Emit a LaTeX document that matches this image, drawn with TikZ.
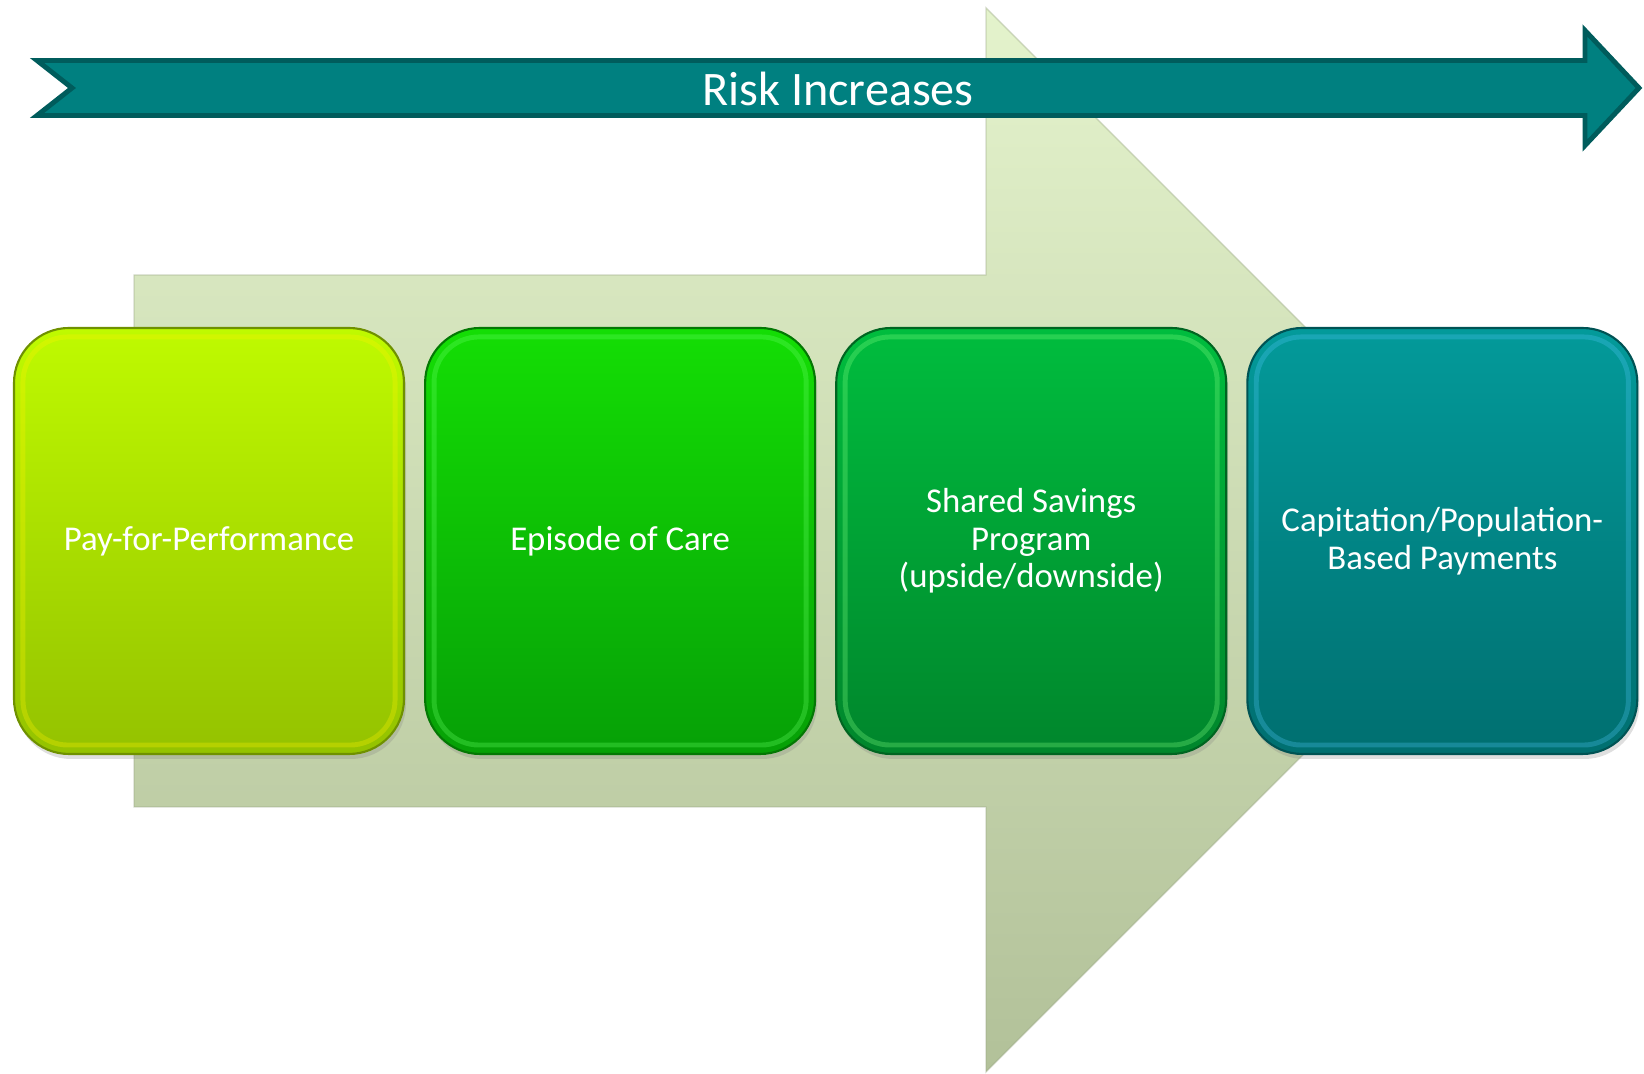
\documentclass[tikz,border=0pt]{standalone}
\usepackage{fontspec}
\setmainfont{Carlito}
\usepackage{xcolor}
\usepackage{tikz}
\usetikzlibrary{positioning, shadows}
\definecolor{riskfill}{HTML}{008080}
\definecolor{riskedge}{HTML}{005C5C}
\definecolor{arrowtop}{HTML}{E4F3CC}
\definecolor{arrowbot}{HTML}{B2C199}
\definecolor{limetop}{HTML}{BFFA00}
\definecolor{limebot}{HTML}{94C200}
\definecolor{greentop}{HTML}{14DE05}
\definecolor{greenbot}{HTML}{06A006}
\definecolor{deeptop}{HTML}{00BD3E}
\definecolor{deepbot}{HTML}{00862C}
\definecolor{tealtop}{HTML}{039A9A}
\definecolor{tealbot}{HTML}{006F70}

\begin{document}
\begin{tikzpicture}[font=\fontsize{9.9}{10.7}\selectfont,
  model/.style={rounded corners=0.55cm, minimum width=3.9cm, minimum height=4.26cm,
    align=center, text=white, line width=0.6pt,
    drop shadow={opacity=0.25, shadow xshift=0.02cm, shadow yshift=-0.05cm}}]
  \useasboundingbox (0,0) rectangle (16.44,10.74);

  % Velká šipka v pozadí
  \shade[top color=arrowtop, bottom color=arrowbot, draw=arrowbot!85!black, draw opacity=0.4, line width=0.4pt]
    (1.34,7.99) -- (9.86,7.99) -- (9.86,10.66) -- (15.18,5.34)
    -- (9.86,0.02) -- (9.86,2.67) -- (1.34,2.67) -- cycle;

  % Pruh "Risk Increases"
  \draw[fill=riskfill, draw=riskedge, line width=1.4pt]
    (0.37,10.135) -- (15.85,10.135) -- (15.85,10.435) -- (16.39,9.86)
    -- (15.85,9.285) -- (15.85,9.585) -- (0.37,9.585) -- (0.72,9.86) -- cycle;
  \node[text=white, font=\fontsize{13.7}{16}\selectfont] (risk) at (8.38,9.85) {Risk Increases};

  % Bloky platebních modelů
  \node[model, top color=limetop, bottom color=limebot, draw=limebot!75!black] (pfp) at (2.09,5.33) {Pay-for-Performance};
  \node[model, top color=greentop, bottom color=greenbot, draw=greenbot!75!black, right=0.19cm of pfp] (episode) {Episode of Care};
  \node[model, top color=deeptop, bottom color=deepbot, draw=deepbot!75!black, right=0.19cm of episode] (shared) {Shared Savings\\Program\\(upside/downside)};
  \node[model, top color=tealtop, bottom color=tealbot, draw=tealbot!75!black, right=0.19cm of shared] (capitation) {Capitation/Population-\\Based Payments};

  % Světlý okraj uvnitř bloků
  \foreach \n/\c in {pfp/yellow, episode/green!60!white, shared/green!50!white, capitation/cyan!70!white} {
    \draw[\c, opacity=0.3, line width=1.4pt, rounded corners=0.45cm]
      ([shift={(0.1,-0.1)}]\n.north west) rectangle ([shift={(-0.1,0.1)}]\n.south east);
  }
\end{tikzpicture}
\end{document}
